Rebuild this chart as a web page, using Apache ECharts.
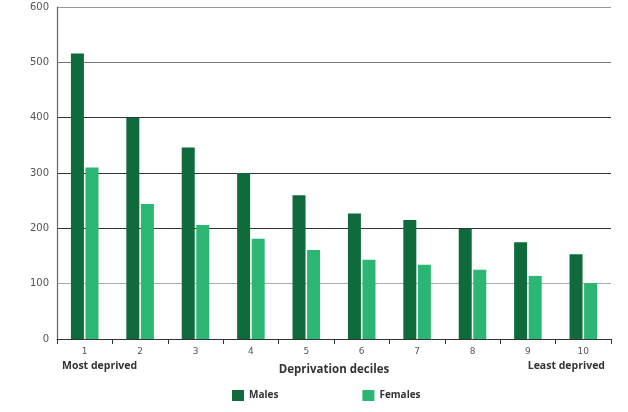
<!DOCTYPE html>
<html>
<head>
<meta charset="utf-8">
<script src="https://cdn.jsdelivr.net/npm/echarts@6/dist/echarts.min.js"></script>
<style>html,body{margin:0;padding:0;background:#fff;}#c{width:628px;height:412px;}</style>
</head>
<body>
<div id="c"></div>
<script>
const categories = ['1','2','3','4','5','6','7','8','9','10'];
const males = [516, 400, 346, 300, 260, 227, 215, 199, 175, 153];
const females = [310, 244, 206, 181, 161, 143, 134, 125, 114, 101];
const yTicks = [0, 100, 200, 300, 400, 500, 600];

const chart = echarts.init(document.getElementById('c'));
const font = '"DejaVu Sans", sans-serif';
const tfont = '"Open Sans", sans-serif';
chart.setOption({
  animation: false,
  textStyle: { fontFamily: font },
  grid: { left: 57, right: 17, top: 7, bottom: 73 },
  legend: {
    left: 227, top: 385, itemWidth: 12, itemHeight: 11, itemGap: 84,
    icon: 'rect',
    textStyle: { fontFamily: tfont, fontSize: 10, fontWeight: 'bold', color: '#333' },
    data: ['Males', 'Females']
  },
  xAxis: {
    type: 'category', data: categories,
    name: 'Deprivation deciles', nameLocation: 'middle', nameGap: 25,
    nameTextStyle: { fontFamily: tfont, fontSize: 11.5, fontWeight: 'bold', color: '#333' },
    axisLine: { lineStyle: { color: '#333', width: 1.2 } },
    axisTick: { show: true, length: 5, lineStyle: { color: '#333' } },
    axisLabel: { margin: 8, fontSize: 9, color: '#555', fontFamily: font }
  },
  yAxis: {
    type: 'value', min: yTicks[0], max: yTicks[yTicks.length - 1], interval: 100,
    axisLine: { show: true, lineStyle: { color: '#666', width: 1.2 } },
    axisTick: { show: false },
    axisLabel: { margin: 8, fontSize: 10, color: '#555', fontFamily: font },
    splitLine: { lineStyle: { color: ['#333', '#aaa', '#333', '#333', '#333', '#777', '#999'], width: 1 } }
  },
  graphic: [
    { type: 'text', left: 62, top: 361, style: { text: 'Most deprived', font: 'bold 10.5px ' + tfont, fill: '#333' } },
    { type: 'text', right: 23, top: 361, style: { text: 'Least deprived', font: 'bold 10.5px ' + tfont, fill: '#333' } }
  ],
  series: [
    { name: 'Males', type: 'bar', data: males, barWidth: 13, barGap: '12%',
      itemStyle: { color: '#0f6b3c' } },
    { name: 'Females', type: 'bar', data: females, barWidth: 13,
      itemStyle: { color: '#2bb673' } }
  ]
});
</script>
</body>
</html>
